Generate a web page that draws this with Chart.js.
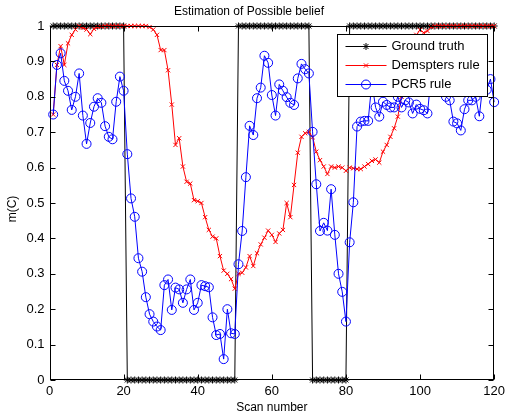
<!DOCTYPE html>
<html><head><meta charset="utf-8">
<script src="https://cdn.jsdelivr.net/npm/chart.js@4/dist/chart.umd.min.js"></script>
<style>html,body{margin:0;padding:0;background:#fff;}#wrap{width:509px;height:417px;}</style>
</head><body><div id="wrap"><canvas id="c" width="509" height="417"></canvas></div>
<script>
const scanNumbers = [1,2,3,4,5,6,7,8,9,10,11,12,13,14,15,16,17,18,19,20,
21,22,23,24,25,26,27,28,29,30,31,32,33,34,35,36,37,38,39,40,
41,42,43,44,45,46,47,48,49,50,51,52,53,54,55,56,57,58,59,60,
61,62,63,64,65,66,67,68,69,70,71,72,73,74,75,76,77,78,79,80,
81,82,83,84,85,86,87,88,89,90,91,92,93,94,95,96,97,98,99,100,
101,102,103,104,105,106,107,108,109,110,111,112,113,114,115,116,117,118,119,120];

const groundTruth = [1,1,1,1,1,1,1,1,1,1,1,1,1,1,1,1,1,1,1,1,
0,0,0,0,0,0,0,0,0,0,0,0,0,0,0,0,0,0,0,0,
0,0,0,0,0,0,0,0,0,0,1,1,1,1,1,1,1,1,1,1,
1,1,1,1,1,1,1,1,1,1,0,0,0,0,0,0,0,0,0,0,
1,1,1,1,1,1,1,1,1,1,1,1,1,1,1,1,1,1,1,1,
1,1,1,1,1,1,1,1,1,1,1,1,1,1,1,1,1,1,1,1];

const dempster = [0.75,0.89,0.943,0.89,0.951,0.975,0.99,1.0,0.995,0.99,
0.977,0.992,0.997,0.998,1,1,1,1,1,1,
1,1,1,1,1,1,0.997,0.99,0.975,0.932,
0.932,0.875,0.778,0.664,0.683,0.603,0.56,0.555,0.508,0.505,
0.50,0.46,0.424,0.405,0.40,0.35,0.309,0.30,0.285,0.258,
0.30,0.303,0.318,0.35,0.322,0.358,0.383,0.402,0.422,0.41,
0.39,0.414,0.424,0.50,0.46,0.551,0.642,0.687,0.697,0.701,
0.686,0.645,0.621,0.603,0.582,0.603,0.60,0.603,0.60,0.591,
0.60,0.598,0.596,0.596,0.603,0.61,0.619,0.623,0.614,0.645,
0.664,0.687,0.711,0.744,0.80,0.86,0.91,0.95,0.975,0.989,
0.981,0.986,0.997,1,1,1,1,1,1,1,
1,1,1,1,1,1,1,1,1,1];

const pcr5 = [0.75,0.89,0.923,0.845,0.817,0.763,0.80,0.866,0.747,0.667,
0.726,0.772,0.796,0.783,0.717,0.687,0.68,0.786,0.857,0.817,
0.638,0.513,0.461,0.344,0.306,0.234,0.186,0.165,0.151,0.141,
0.268,0.284,0.198,0.261,0.256,0.218,0.256,0.284,0.198,0.218,
0.268,0.265,0.262,0.177,0.127,0.13,0.059,0.20,0.132,0.13,
0.327,0.421,0.573,0.718,0.692,0.796,0.826,0.916,0.896,0.805,
0.747,0.835,0.817,0.799,0.783,0.777,0.852,0.893,0.878,0.866,
0.701,0.553,0.421,0.444,0.422,0.539,0.41,0.30,0.249,0.165,
0.389,0.502,0.716,0.73,0.732,0.732,0.84,0.77,0.744,0.786,
0.777,0.77,0.77,0.80,0.77,0.79,0.784,0.753,0.778,0.766,
0.762,0.753,0.86,0.89,0.84,0.82,0.80,0.79,0.73,0.725,
0.705,0.765,0.79,0.79,0.80,0.745,0.84,0.82,0.85,0.785];

const xTicks = [0,20,40,60,80,100,120];
const yTicks = [0,0.1,0.2,0.3,0.4,0.5,0.6,0.7,0.8,0.9,1];
const seriesNames = ['Ground truth','Demspters rule','PCR5 rule'];
const chartTitle = 'Estimation of Possible belief';
const xTitle = 'Scan number';
const yTitle = 'm(C)';

const FONT = 'Arial, "Liberation Sans", Helvetica, sans-serif';

function pts(ys){ return scanNumbers.map((x,i)=>({x:x,y:ys[i]})); }

const framePlugin = {
  id:'frame',
  afterDatasetsDraw(chart){
    const ctx = chart.ctx, a = chart.chartArea;
    const xs = chart.scales.x, ys = chart.scales.y;
    ctx.save();
    ctx.strokeStyle = '#000'; ctx.lineWidth = 1;
    const L = Math.round(a.left)+0.5, R = Math.round(a.right)-0.5, T = Math.round(a.top)+0.5, B = Math.round(a.bottom)-0.5;
    ctx.strokeRect(L, T, R-L, B-T);
    const tl = 5;
    ctx.beginPath();
    xTicks.forEach(v=>{
      const px = Math.round(xs.getPixelForValue(v))+0.5;
      ctx.moveTo(px,B); ctx.lineTo(px,B-tl);
      ctx.moveTo(px,T); ctx.lineTo(px,T+tl);
    });
    yTicks.forEach(v=>{
      const py = Math.round(ys.getPixelForValue(v))+0.5;
      ctx.moveTo(L,py); ctx.lineTo(L+tl,py);
      ctx.moveTo(R,py); ctx.lineTo(R-tl,py);
    });
    ctx.stroke();

    // y axis title
    ctx.save();
    ctx.translate(13, (a.top + a.bottom)/2 + 6);
    ctx.rotate(-Math.PI/2);
    ctx.fillStyle = '#000';
    ctx.font = '12px ' + FONT;
    ctx.textAlign = 'center'; ctx.textBaseline = 'middle';
    ctx.fillText(yTitle, 0, 0);
    ctx.restore();

    // legend
    const bw = 150, bh = 62;
    const bx = Math.round(a.right - 7 - bw)+0.5, by = Math.round(a.top + 8)+0.5;
    ctx.fillStyle = '#fff';
    ctx.fillRect(bx, by, bw, bh);
    ctx.strokeStyle = '#000';
    ctx.strokeRect(bx, by, bw, bh);
    const ds = chart.data.datasets;
    [0,1,2].forEach((k,i)=>{
      const d = ds.find(q=>q.label===seriesNames[k]);
      const cy = by + 12 + i*19;
      const x0 = bx + 8, x1 = bx + 49, xm = (x0+x1)/2;
      ctx.strokeStyle = d.borderColor; ctx.lineWidth = 1;
      ctx.beginPath(); ctx.moveTo(x0,cy); ctx.lineTo(x1,cy); ctx.stroke();
      ctx.fillStyle = 'rgba(0,0,0,0)';
      ctx.strokeStyle = d.pointBorderColor;
      Chart.helpers.drawPoint(ctx, {pointStyle:d.pointStyle, radius:d.pointRadius, borderWidth:1, rotation:0}, xm, cy);
      ctx.fillStyle = '#000';
      ctx.font = '13px ' + FONT;
      ctx.textBaseline = 'middle'; ctx.textAlign = 'left';
      ctx.fillText(seriesNames[k], bx + 54, cy);
    });
    ctx.restore();
  }
};

new Chart(document.getElementById('c'), {
  type:'line',
  data:{datasets:[
    {label:seriesNames[2], data:pts(pcr5), borderColor:'#0000ff', backgroundColor:'rgba(0,0,0,0)', borderWidth:1,
     pointStyle:'circle', pointRadius:4.5, pointBorderWidth:1, pointBackgroundColor:'rgba(0,0,0,0)', pointBorderColor:'#0000ff', tension:0, clip:false, order:1},
    {label:seriesNames[1], data:pts(dempster), borderColor:'#ff0000', backgroundColor:'#ff0000', borderWidth:1,
     pointStyle:'crossRot', pointRadius:3, pointBorderWidth:1, pointBorderColor:'#ff0000', tension:0, clip:false, order:2},
    {label:seriesNames[0], data:pts(groundTruth), borderColor:'#000000', backgroundColor:'#000000', borderWidth:1,
     pointStyle:'star', pointRadius:3.5, pointBorderWidth:1, pointBorderColor:'#000000', tension:0, clip:false, order:3}
  ]},
  options:{
    responsive:false, animation:false, devicePixelRatio:1,
    layout:{padding:{left:0,right:11,top:0,bottom:0}},
    plugins:{
      legend:{display:false}, tooltip:{enabled:false},
      title:{display:true, text:chartTitle, color:'#000', font:{family:FONT,size:12,weight:'normal'}, padding:{top:4,bottom:7.6}}
    },
    scales:{
      x:{type:'linear', min:0, max:120,
        afterBuildTicks:s=>{ s.ticks = xTicks.map(v=>({value:v})); },
        grid:{display:false, drawTicks:false}, border:{display:false},
        ticks:{color:'#000', font:{family:FONT,size:13}, padding:4, maxRotation:0, autoSkip:false},
        title:{display:true, text:xTitle, color:'#000', font:{family:FONT,size:12}, padding:{top:1,bottom:1.8}},
        afterFit:s=>{ s.height = 37; }
      },
      y:{type:'linear', min:0, max:1,
        afterBuildTicks:s=>{ s.ticks = yTicks.map(v=>({value:v})); },
        grid:{display:false, drawTicks:false}, border:{display:false},
        ticks:{color:'#000', font:{family:FONT,size:13}, padding:5, autoSkip:false,
          callback:v=> (v===0||v===1) ? String(v) : v.toFixed(1)},
        title:{display:false},
        afterFit:s=>{ s.width = 49.5; }
      }
    }
  },
  plugins:[framePlugin]
});
</script></body></html>
